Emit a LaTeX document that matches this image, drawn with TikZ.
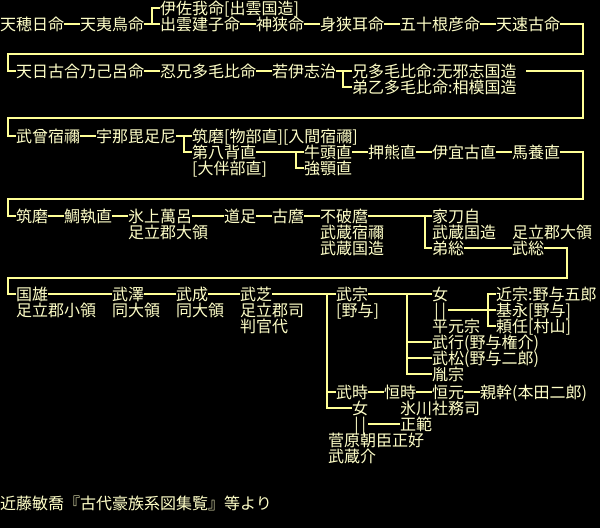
\documentclass[tikz,border=0pt]{standalone}
\usepackage{fontspec}
\newfontfamily\jpfont{Noto Sans CJK JP}
\definecolor{nametext}{RGB}{255,255,200}
\definecolor{lineyel}{RGB}{255,255,150}
\begin{document}
\begin{tikzpicture}[x=1pt,y=-1pt,
  nm/.style={anchor=west,inner sep=0pt,text height=14.08pt,text depth=1.92pt,text=nametext,font=\jpfont\fontsize{16}{16}\selectfont},
  pr/.style={nm,minimum width=16pt,align=center},
  ln/.style={draw=lineyel,line width=2pt}]
\useasboundingbox (0,0) rectangle (600,528);
\fill[black] (0,0) rectangle (600,528);

\node[nm] (izasa) at (160,8) {伊佐我命[出雲国造]};
\node[nm] (amaho) at (0,24) {天穂日命};
\node[nm] (amahina) at (80,24) {天夷鳥命};
\node[nm] (izumo) at (160,24) {出雲建子命};
\node[nm] (kamusa) at (256,24) {神狭命};
\node[nm] (musa) at (320,24) {身狭耳命};
\node[nm] (isone) at (400,24) {五十根彦命};
\node[nm] (hayako) at (496,24) {天速古命};

\node[nm] (amahiko) at (16,71) {天日古合乃己呂命};
\node[nm] (oshie) at (160,71) {忍兄多毛比命};
\node[nm] (wakai) at (272,71) {若伊志治};
\node[nm] (etaba) at (352,71) {兄多毛比命:无邪志国造};
\node[nm] (otota) at (352,87) {弟乙多毛比命:相模国造};

\node[nm] (takeso) at (16,136) {武曾宿禰};
\node[nm] (unabi) at (96,136) {宇那毘足尼};
\node[nm] (tsukuma) at (192,136) {筑磨[物部直][入間宿禰]};
\node[nm] (yabase) at (192,152) {第八背直};
\node[nm] (otomo) at (192,168) {[大伴部直]};
\node[nm] (gozu) at (304,152) {牛頭直};
\node[nm] (kowa) at (304,168) {強顎直};
\node[nm] (oshikuma) at (368,152) {押熊直};
\node[nm] (igako) at (432,152) {伊宜古直};
\node[nm] (umakai) at (512,152) {馬養直};

\node[nm] (tsukuma2) at (16,216) {筑磨};
\node[nm] (taito) at (64,216) {鯛執直};
\node[nm] (hikami) at (128,216) {氷上萬呂};
\node[nm] (hikamiL) at (128,232) {足立郡大領};
\node[nm] (michitari) at (224,216) {道足};
\node[nm] (koma) at (272,216) {古麿};
\node[nm] (fuwa) at (320,216) {不破麿};
\node[nm] (fuwaL1) at (320,232) {武蔵宿禰};
\node[nm] (fuwaL2) at (320,248) {武蔵国造};
\node[nm] (ietoji) at (432,216) {家刀自};
\node[nm] (ietojiL) at (432,232) {武蔵国造};
\node[nm] (otofusa) at (432,248) {弟総};
\node[nm] (takefusaL) at (512,232) {足立郡大領};
\node[nm] (takefusa) at (512,248) {武総};

\node[nm] (kunio) at (16,294) {国雄};
\node[nm] (kunioL) at (16,310) {足立郡小領};
\node[nm] (takesawa) at (112,294) {武澤};
\node[nm] (takesawaL) at (112,310) {同大領};
\node[nm] (takenari) at (176,294) {武成};
\node[nm] (takenariL) at (176,310) {同大領};
\node[nm] (takeshiba) at (240,294) {武芝};
\node[nm] (takeshibaL1) at (240,310) {足立郡司};
\node[nm] (takeshibaL2) at (240,326) {判官代};
\node[nm] (takemune) at (336,294) {武宗};
\node[nm] (takemuneL) at (336,310) {[野与]};
\node[nm] (onna1) at (432,294) {女};
\node[pr] (pair1) at (432,310) {|\hspace{3pt}|};
\node[nm] (heigen) at (432,326) {平元宗};
\node[nm] (chikamune) at (496,294) {近宗:野与五郎};
\node[nm] (motonaga) at (496,310) {基永[野与]};
\node[nm] (yorito) at (496,326) {頼任[村山]};
\node[nm] (takeyuki) at (432,342) {武行(野与権介)};
\node[nm] (takematsu) at (432,358) {武松(野与二郎)};
\node[nm] (tanemune) at (432,374) {胤宗};

\node[nm] (taketoki) at (336,392) {武時};
\node[nm] (tsunetoki) at (384,392) {恒時};
\node[nm] (tsunemoto) at (432,392) {恒元};
\node[nm] (chikamoto) at (480,392) {親幹(本田二郎)};
\node[nm] (onna2) at (352,408) {女};
\node[nm] (hikawa) at (400,408) {氷川社務司};
\node[pr] (pair2) at (352,424) {|\hspace{3pt}|};
\node[nm] (masanori) at (400,424) {正範};
\node[nm] (masayoshi) at (328,440) {菅原朝臣正好};
\node[nm] (musashisuke) at (328,456) {武蔵介};

\node[nm] (source) at (0,503) {近藤敏喬『古代豪族系図集覧』等より};

\coordinate (e1) at (583,54);
\coordinate (w1) at (8,54);
\coordinate (e2) at (583,118);
\coordinate (w2) at (8,118);
\coordinate (e3) at (583,199);
\coordinate (w3) at (8,199);
\coordinate (e4) at (567,278);
\coordinate (w4) at (8,278);
\coordinate (v1) at ([xshift=-9]takemune.west);
\coordinate (v2) at ([xshift=-25]onna1.west);

\foreach \a/\b in {amaho/amahina,amahina/izumo,izumo/kamusa,kamusa/musa,musa/isone,isone/hayako,
  amahiko/oshie,oshie/wakai,wakai/etaba,
  takeso/unabi,unabi/tsukuma,yabase/gozu,gozu/oshikuma,oshikuma/igako,igako/umakai,
  tsukuma2/taito,taito/hikami,hikami/michitari,michitari/koma,koma/fuwa,fuwa/ietoji,otofusa/takefusa,
  kunio/takesawa,takesawa/takenari,takenari/takeshiba,takeshiba/takemune,takemune/onna1,pair1/motonaga,
  taketoki/tsunetoki,tsunetoki/tsunemoto,tsunemoto/chikamoto,pair2/masanori}
  \draw[ln] (\a.east) -- (\b.west);

\draw[ln] ([xshift=-8]izumo.west) |- (izasa.west);
\draw[ln] ([xshift=-9]etaba.west) |- (otota.west);
\draw[ln] ([xshift=-8]tsukuma.west) |- (yabase.west);
\draw[ln] ([xshift=-8]gozu.west) |- (kowa.west);
\draw[ln] ([xshift=-7]ietoji.west) |- (otofusa.west);
\draw[ln] (chikamune.west) -| ([xshift=-8]yorito.west) -- (yorito.west);
\foreach \n in {taketoki,onna2}
  \draw[ln] (v1) |- (\n.west);
\foreach \n in {takeyuki,takematsu,tanemune}
  \draw[ln] (v2) |- (\n.west);

\draw[ln] (hayako.east) -| (e1) -- (w1) |- (amahiko.west);
\draw[ln] ([xshift=9]etaba.east) -| (e2) -- (w2) |- (takeso.west);
\draw[ln] (umakai.east) -| (e3) -- (w3) |- (tsukuma2.west);
\draw[ln] (takefusa.east) -| (e4) -- (w4) |- (kunio.west);
\end{tikzpicture}
\end{document}
